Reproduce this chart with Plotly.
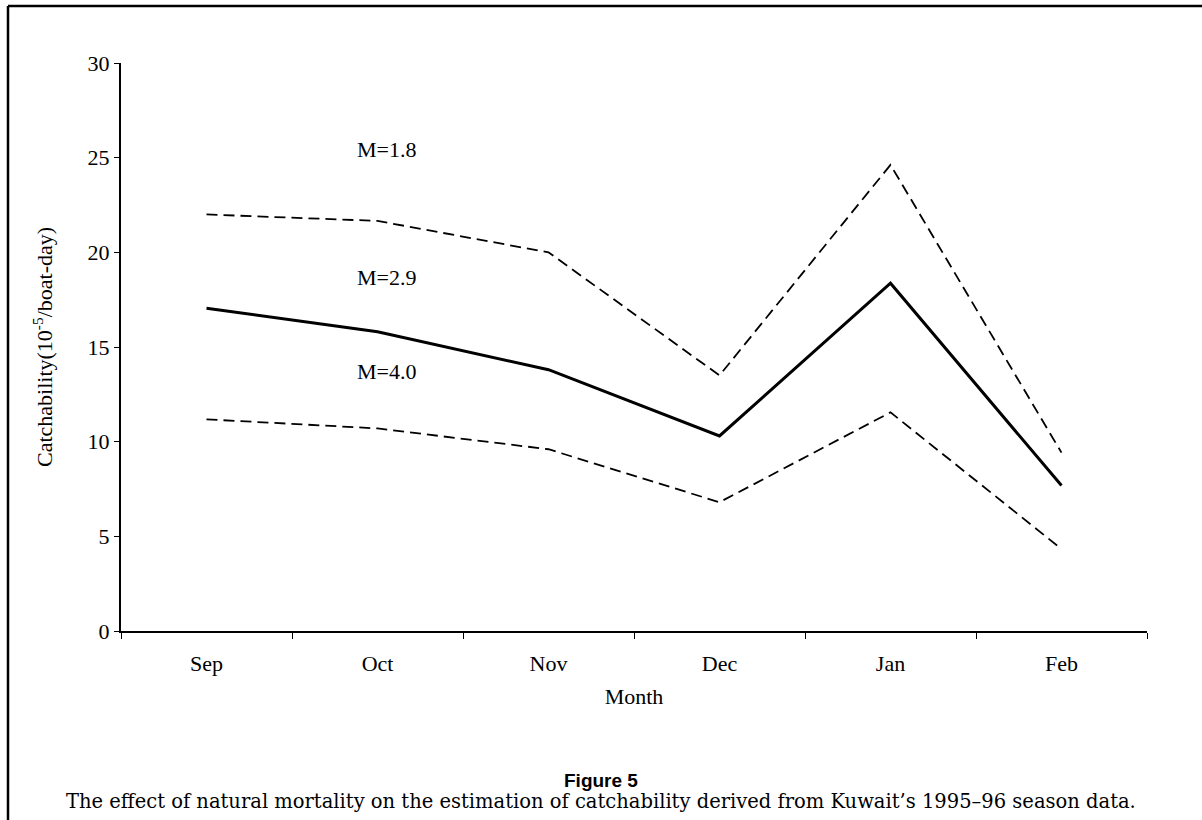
import plotly.graph_objects as go

months = ["Sep", "Oct", "Nov", "Dec", "Jan", "Feb"]
m18 = [22.0, 21.66, 20.0, 13.5, 24.62, 9.42]
m29 = [17.05, 15.8, 13.8, 10.3, 18.37, 7.68]
m40 = [11.18, 10.7, 9.6, 6.8, 11.55, 4.33]

label_text = ["M=1.8", "M=2.9", "M=4.0"]
label_x = [1.055, 1.055, 1.055]
label_y = [25.45, 18.66, 13.70]

y_ticks = [0, 5, 10, 15, 20, 25, 30]

serif = "Liberation Serif, Times New Roman, serif"
FS = 22

# plot-area pixel geometry (for placing annotations/shapes in paper coords)
L, R_EDGE, T, B = 121, 1147, 63, 631
PW, PH = R_EDGE - L, B - T


def px(xp):
    return (xp - L) / PW


def py(yp):
    return (B - yp) / PH


fig = go.Figure()
fig.add_trace(go.Scatter(x=months, y=m18, mode="lines",
                         line=dict(color="black", width=1.8, dash="11px,6px"),
                         showlegend=False))
fig.add_trace(go.Scatter(x=months, y=m29, mode="lines",
                         line=dict(color="black", width=3),
                         showlegend=False))
fig.add_trace(go.Scatter(x=months, y=m40, mode="lines",
                         line=dict(color="black", width=1.8, dash="11px,6px"),
                         showlegend=False))

for t, x, y in zip(label_text, label_x, label_y):
    fig.add_annotation(x=x, y=y, xref="x", yref="y", text=t, showarrow=False,
                       xanchor="center", yanchor="middle",
                       font=dict(family=serif, size=FS, color="black"))

# y-axis title
fig.add_annotation(x=px(43), y=0.5, xref="paper", yref="paper",
                   text="Catchability(10<sup>-5</sup>/boat-day)", textangle=-90,
                   showarrow=False, xanchor="center", yanchor="middle",
                   font=dict(family=serif, size=FS, color="black"))

# captions
fig.add_annotation(x=px(601), y=py(780), xref="paper", yref="paper",
                   text="<b>Figure 5</b>", showarrow=False,
                   xanchor="center", yanchor="middle",
                   font=dict(family="Liberation Sans Narrow, Liberation Sans, Arial, sans-serif",
                             size=19, color="black"))
fig.add_annotation(x=px(601), y=py(801), xref="paper", yref="paper",
                   text="The effect of natural mortality on the estimation of catchability derived from Kuwait’s 1995–96 season data.",
                   showarrow=False, xanchor="center", yanchor="middle",
                   font=dict(family="DejaVu Serif, serif", size=19.5, color="black"))

# frame lines (left and top)
fig.add_shape(type="line", xref="paper", yref="paper",
              x0=px(8), x1=px(8), y0=py(6), y1=py(830),
              line=dict(color="black", width=2.5))
fig.add_shape(type="line", xref="paper", yref="paper",
              x0=px(8), x1=px(1210), y0=py(6), y1=py(6),
              line=dict(color="black", width=2.5))

fig.update_layout(
    width=1202, height=820,
    margin=dict(l=L, r=1202 - R_EDGE, t=T, b=820 - B),
    paper_bgcolor="white", plot_bgcolor="white",
    font=dict(family=serif, size=FS, color="black"),
    xaxis=dict(
        type="category", range=[-0.5, 5.5],
        tickson="boundaries", ticks="outside", ticklen=6, tickwidth=1,
        tickcolor="black", showline=True, linecolor="black", linewidth=2,
        showgrid=False, zeroline=False,
        tickfont=dict(family=serif, size=FS),
        ticklabelstandoff=12,
        title=dict(text="Month", font=dict(family=serif, size=FS), standoff=13),
        automargin=False,
    ),
    yaxis=dict(
        range=[0, 30], tickvals=y_ticks, ticks="outside", ticklen=5, tickwidth=1,
        tickcolor="black", showline=True, linecolor="black", linewidth=2,
        showgrid=False, zeroline=False,
        tickfont=dict(family=serif, size=FS),
        automargin=False,
    ),
)

fig.write_html("out.html")
